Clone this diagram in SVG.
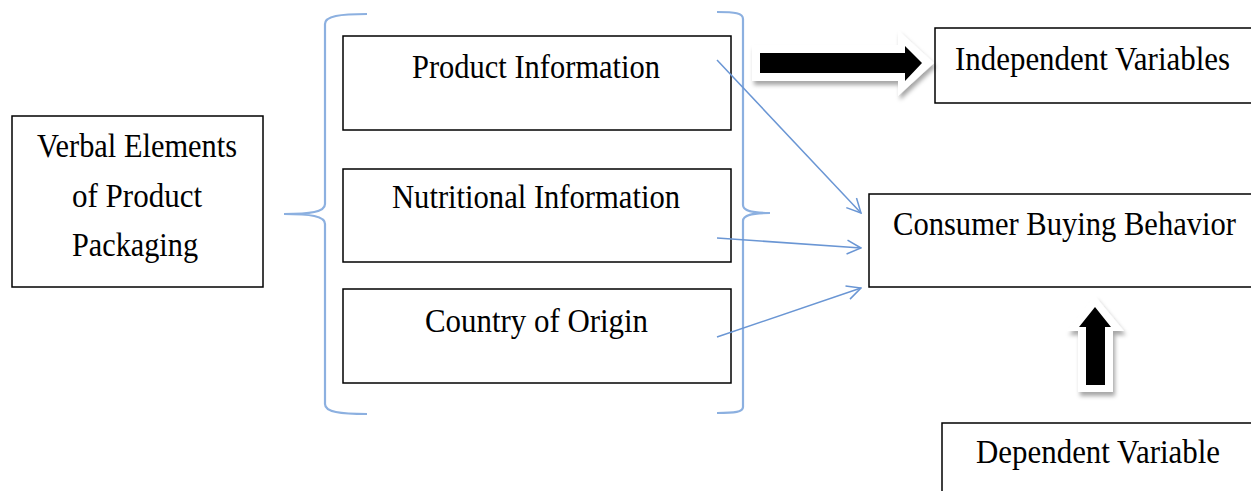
<svg xmlns="http://www.w3.org/2000/svg" width="1251" height="491" viewBox="0 0 1251 491">
<style>
.box{fill:#fff;stroke:#000;stroke-width:1.5}
.fill{fill:#fff;stroke:none}
.edge{fill:none;stroke:#000;stroke-width:1.5}
.t{font-family:"Liberation Serif","Times New Roman",serif;font-size:34px;fill:#000;text-anchor:start}
.brace{fill:none;stroke:#8cb0e0;stroke-width:2.2}
.conn{fill:none;stroke:#6a96d4;stroke-width:1.5}
</style>
<defs>
<marker id="open" viewBox="0 0 16 16" refX="15" refY="8" markerWidth="16" markerHeight="16" markerUnits="userSpaceOnUse" orient="auto">
<path d="M1,1 L15,8 L1,15" fill="none" stroke="#6a96d4" stroke-width="1.5"/>
</marker>
<filter id="sh" x="-20%" y="-40%" width="140%" height="180%">
<feDropShadow dx="2" dy="4" stdDeviation="2" flood-color="#000" flood-opacity="0.35"/>
</filter>
</defs>
<rect width="1251" height="491" fill="#fff"/>

<g id="braces">
<path class="brace" d="M367,14 C340,14 325,16 325,24 L325,204 C325,212 310,214 284,214 C310,214 325,216 325,224 L325,404 C325,412 340,414 367,414"/>
<path class="brace" d="M717,12 C735,12 743,13 743,19 L743,205 C743,211 752,213 770,213 C752,213 743,215 743,221 L743,407 C743,412 735,413 717,413"/>
</g>

<g id="node-verbal">
<rect class="box" x="12" y="116" width="251" height="171"/>
<text class="t" transform="matrix(0.89 0 0 1 37 157)" textLength="224.7" lengthAdjust="spacingAndGlyphs">Verbal Elements</text>
<text class="t" transform="matrix(0.89 0 0 1 72 207)" textLength="146.1" lengthAdjust="spacingAndGlyphs">of Product</text>
<text class="t" transform="matrix(0.89 0 0 1 72 256)" textLength="141.6" lengthAdjust="spacingAndGlyphs">Packaging</text>
</g>

<g id="node-product">
<rect class="box" x="343" y="36" width="388" height="94"/>
<text class="t" transform="matrix(0.89 0 0 1 412 78)" textLength="278.7" lengthAdjust="spacingAndGlyphs">Product Information</text>
</g>

<g id="node-nutritional">
<rect class="box" x="343" y="169" width="388" height="93"/>
<text class="t" transform="matrix(0.89 0 0 1 392 208)" textLength="323.6" lengthAdjust="spacingAndGlyphs">Nutritional Information</text>
</g>

<g id="node-country">
<rect class="box" x="343" y="289" width="388" height="94"/>
<text class="t" transform="matrix(0.89 0 0 1 425 332)" textLength="250.6" lengthAdjust="spacingAndGlyphs">Country of Origin</text>
</g>

<g id="node-independent">
<rect class="fill" x="935" y="28" width="316" height="75"/>
<path class="edge" d="M1251,28 H935 V103 H1251"/>
<text class="t" transform="matrix(0.89 0 0 1 955 70)" textLength="309" lengthAdjust="spacingAndGlyphs">Independent Variables</text>
</g>

<g id="node-consumer">
<rect class="fill" x="869" y="194" width="382" height="93"/>
<path class="edge" d="M1251,194 H869 V287 H1251"/>
<text class="t" transform="matrix(0.89 0 0 1 893 235)" textLength="385.4" lengthAdjust="spacingAndGlyphs">Consumer Buying Behavior</text>
</g>

<g id="node-dependent">
<rect class="fill" x="942" y="423" width="309" height="68"/>
<path class="edge" d="M1251,423 H942 V491"/>
<text class="t" transform="matrix(0.89 0 0 1 976 463)" textLength="274.2" lengthAdjust="spacingAndGlyphs">Dependent Variable</text>
</g>

<g id="connectors">
<line class="conn" x1="717" y1="60" x2="861" y2="213" marker-end="url(#open)"/>
<line class="conn" x1="717" y1="238" x2="861" y2="248" marker-end="url(#open)"/>
<line class="conn" x1="717" y1="337" x2="861" y2="288" marker-end="url(#open)"/>
<g id="arrow-right">
<polygon points="752,45 898,45 898,30 934,63 898,96 898,81 752,81" fill="#fff" filter="url(#sh)"/>
<polygon points="760,53 905,53 905,46 922,63 905,81 905,73 760,73" fill="#000"/>
</g>
<g id="arrow-up">
<polygon points="1095,296 1124,331 1113,331 1113,392 1078,392 1078,331 1067,331" fill="#fff" filter="url(#sh)"/>
<polygon points="1095,307 1111,327 1105,327 1105,385 1086,385 1086,327 1079,327" fill="#000"/>
</g>
</g>
</svg>
